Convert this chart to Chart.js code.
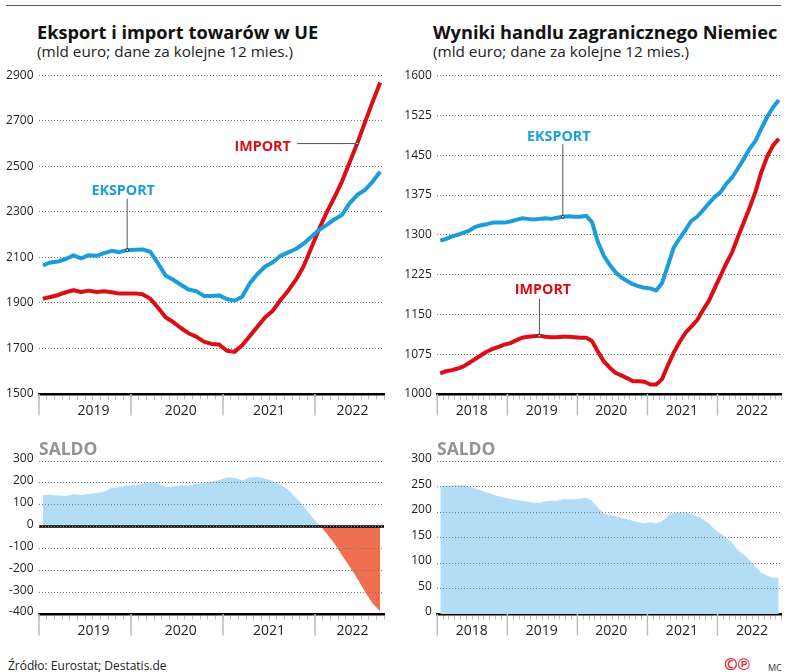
<!DOCTYPE html>
<html lang="pl">
<head>
<meta charset="utf-8">
<title>Eksport i import</title>
<script src="https://cdn.jsdelivr.net/npm/chart.js@4/dist/chart.umd.min.js"></script>
<style>
  html, body { margin: 0; padding: 0; background: #fff; }
  body { position: relative; width: 788px; height: 672px; overflow: hidden; font-family: "Open Sans", sans-serif; color: #1a1a1a; }
  canvas { position: absolute; }
  .t { position: absolute; white-space: nowrap; line-height: 1; }
  .title { font-weight: 700; font-size: 18.2px; color: #111; }
  .sub { font-size: 15.3px; color: #222; }
  .saldo { font-weight: 700; font-size: 17.5px; color: #939393; }
</style>
</head>
<body>
<div class="t" style="left:6px;top:5px;width:775px;border-top:1px solid #555"></div>
<div class="t title" style="left:37px;top:23px">Eksport i import towarów w UE</div>
<div class="t sub" style="left:37px;top:44px">(mld euro; dane za kolejne 12 mies.)</div>
<div class="t title" style="left:433px;top:23px">Wyniki handlu zagranicznego Niemiec</div>
<div class="t sub" style="left:433px;top:44px">(mld euro; dane za kolejne 12 mies.)</div>
<canvas id="ueTop" width="392" height="364" style="left:0;top:60px"></canvas>
<canvas id="deTop" width="394" height="364" style="left:394px;top:60px"></canvas>
<canvas id="ueSaldo" width="392" height="204" style="left:0;top:440px"></canvas>
<canvas id="deSaldo" width="394" height="204" style="left:394px;top:440px"></canvas>
<div class="t saldo" style="left:39px;top:440px">SALDO</div>
<div class="t saldo" style="left:437px;top:440px">SALDO</div>
<div class="t" style="left:8px;top:660px;font-size:12px;color:#222">Źródło: Eurostat; Destatis.de</div>
<div class="t" style="left:724px;top:656px;font-size:16.5px;font-weight:700;color:#d8262c">©℗</div>
<div class="t" style="left:768px;top:663px;font-size:9px;color:#333">MC</div>
<script>
// Lata na osi X
const yearsUE = [2019, 2020, 2021, 2022];
const yearsDE = [2018, 2019, 2020, 2021, 2022];

// Dane UE (styczeń 2019 - wrzesień 2022, mld euro)
const eksportUE = [2065, 2078, 2082, 2093, 2109, 2096, 2110, 2107, 2119, 2129, 2123, 2132,
  2134, 2135, 2125, 2075, 2021, 2002, 1980, 1959, 1952, 1931, 1930, 1933,
  1917, 1910, 1927, 1987, 2027, 2060, 2079, 2107, 2122, 2137, 2160, 2190,
  2220, 2242, 2267, 2286, 2337, 2374, 2396, 2432, 2476];
const importUE = [1919, 1926, 1935, 1947, 1956, 1948, 1954, 1948, 1951, 1947, 1941, 1942,
  1942, 1938, 1919, 1880, 1837, 1816, 1790, 1767, 1752, 1730, 1720, 1717,
  1690, 1685, 1714, 1755, 1796, 1837, 1866, 1913, 1954, 2001, 2060, 2140,
  2222, 2296, 2362, 2432, 2516, 2600, 2692, 2782, 2868];
const saldoUE = [145, 146, 142, 140, 148, 145, 149, 154, 160, 178, 180, 188,
  189, 195, 203, 198, 181, 183, 189, 188, 195, 200, 206, 213,
  224, 223, 212, 226, 227, 220, 209, 191, 168, 133, 95, 49,
  10, -30, -76, -130, -183, -236, -297, -351, -389];

// Dane Niemcy (styczeń 2018 - listopad 2022, mld euro)
const eksportDE = [1289, 1292, 1297, 1300, 1304, 1308, 1315, 1318, 1320, 1323, 1323, 1323,
  1325, 1328, 1331, 1330, 1329, 1330, 1331, 1330, 1332, 1334, 1335, 1334,
  1334, 1336, 1324, 1287, 1261, 1244, 1230, 1220, 1213, 1207, 1203, 1200,
  1199, 1195, 1209, 1242, 1276, 1293, 1309, 1326, 1334, 1346, 1359, 1371,
  1380, 1396, 1408, 1425, 1443, 1462, 1477, 1500, 1522, 1540, 1554];
const importDE = [1039, 1043, 1045, 1048, 1052, 1059, 1066, 1073, 1080, 1085, 1089, 1093,
  1096, 1101, 1106, 1108, 1109, 1110, 1108, 1107, 1107, 1108, 1108, 1107,
  1106, 1106, 1100, 1080, 1062, 1050, 1040, 1035, 1030, 1024, 1024, 1023,
  1018, 1018, 1028, 1054, 1078, 1098, 1115, 1127, 1139, 1158, 1175, 1199,
  1222, 1246, 1267, 1296, 1323, 1351, 1381, 1418, 1447, 1468, 1481];
const saldoDE = [250, 251, 252, 252, 253, 250, 246, 242, 238, 235, 231, 228,
  226, 224, 222, 220, 218, 218, 221, 222, 222, 225, 225, 225,
  226, 228, 222, 209, 197, 193, 192, 188, 186, 183, 180, 178,
  180, 178, 182, 192, 199, 199, 199, 196, 191, 186, 178, 166,
  158, 150, 139, 125, 116, 106, 93, 81, 75, 71, 71];

// Etykiety osi Y
const ticksUE = [1500, 1700, 1900, 2100, 2300, 2500, 2700, 2900];
const ticksDE = [1000, 1075, 1150, 1225, 1300, 1375, 1450, 1525, 1600];
const ticksSaldoUE = [-400, -300, -200, -100, 0, 100, 200, 300];
const ticksSaldoDE = [0, 50, 100, 150, 200, 250, 300];

const BLUE = "#1b9ddb";
const RED = "#db0d15";
const FONT = '"Open Sans", sans-serif';

// Miesiące jako kategorie, np. "2019-01"
const monthLabels = (years, count) =>
  years.flatMap((y) => Array.from({ length: 12 }, (_, m) => `${y}-${String(m + 1).padStart(2, "0")}`)).slice(0, count);

// Roczne kreski, podpisy lat, zerowa linia i odnośniki do serii
const panelMarks = {
  id: "panelMarks",
  afterDatasetsDraw(chart, args, opts) {
    const { ctx, chartArea } = chart;
    const x = chart.scales.x;
    const y = chart.scales.y;
    const labels = x.getLabels();
    ctx.save();

    ctx.strokeStyle = "#bdbdbd";
    ctx.lineWidth = 1.5;
    labels.forEach((label, i) => {
      if (!label.endsWith("-01")) return;
      const px = x.getPixelForValue(i - 0.5);
      ctx.beginPath();
      ctx.moveTo(px, chartArea.bottom);
      ctx.lineTo(px, chartArea.bottom + 21.5);
      ctx.stroke();
    });

    ctx.fillStyle = "#222";
    ctx.font = `14px ${FONT}`;
    ctx.textAlign = "center";
    ctx.textBaseline = "middle";
    opts.years.forEach((year, i) => {
      ctx.fillText(String(year), x.getPixelForValue(opts.yearAt[i]), chartArea.bottom + 17);
    });

    if (opts.zeroLine) {
      ctx.strokeStyle = "#000";
      ctx.lineWidth = 2.5;
      ctx.beginPath();
      ctx.moveTo(chartArea.left, y.getPixelForValue(0));
      ctx.lineTo(chartArea.right, y.getPixelForValue(0));
      ctx.stroke();
    }

    (opts.callouts || []).forEach((c) => {
      const pt = chart.getDatasetMeta(c.dataset).data[c.index];
      ctx.strokeStyle = "#555";
      ctx.lineWidth = 1;
      ctx.beginPath();
      ctx.moveTo(pt.x, pt.y);
      ctx.lineTo(pt.x + c.lineDx, pt.y + c.lineDy);
      ctx.stroke();
      ctx.fillStyle = "#fff";
      ctx.beginPath();
      ctx.arc(pt.x, pt.y, 1.4, 0, Math.PI * 2);
      ctx.fill();
      ctx.strokeStyle = "#222";
      ctx.stroke();
      ctx.fillStyle = c.color;
      ctx.font = `700 14.3px ${FONT}`;
      ctx.fillText(c.text, pt.x + c.textDx, pt.y + c.textDy);
    });
    ctx.restore();
  },
};

const createPanel = (id, cfg) =>
  new Chart(document.getElementById(id), {
    type: "line",
    data: { labels: cfg.labels, datasets: cfg.datasets },
    plugins: [panelMarks],
    options: {
      responsive: false,
      animation: false,
      events: [],
      layout: { padding: { top: cfg.top, right: cfg.right, left: 0, bottom: 0 } },
      elements: { point: { radius: 0 }, line: { tension: 0, borderJoinStyle: "round" } },
      plugins: {
        legend: { display: false },
        title: { display: false },
        tooltip: { enabled: false },
        panelMarks: { years: cfg.years, yearAt: cfg.yearAt, zeroLine: cfg.zeroLine, callouts: cfg.callouts },
      },
      scales: {
        x: {
          type: "category",
          offset: true,
          afterFit: (s) => { s.height = 30; },
          border: { display: true, color: "#000", width: 2.5 },
          grid: { offset: true, drawOnChartArea: false, drawTicks: true, tickLength: 5.5, tickColor: "#bdbdbd", tickWidth: 1 },
          ticks: { display: false, autoSkip: false },
        },
        y: {
          type: "linear",
          min: cfg.ticks[0],
          max: cfg.ticks[cfg.ticks.length - 1],
          afterFit: (s) => { s.width = cfg.axisWidth; },
          afterBuildTicks: (s) => { s.ticks = cfg.ticks.map((value) => ({ value })); },
          border: { display: false, dash: [1, 2] },
          grid: {
            // Na dole jest gruba linia osi, kropki nie są tam potrzebne
            color: (c) => (c.tick && c.tick.value === cfg.ticks[0] ? "transparent" : "#777"),
            lineWidth: 1,
            drawTicks: false,
            z: cfg.gridOnTop ? 1 : -1,
          },
          ticks: {
            color: "#222",
            font: { family: FONT, size: 12 },
            padding: cfg.labelPad,
            labelOffset: cfg.labelShift,
            autoSkip: false,
            callback: (value) => String(value),
          },
        },
      },
    },
  });

const line = (data, color) => ({ data, borderColor: color, borderWidth: 4, fill: false });
const area = (data) => ({
  data,
  borderWidth: 0,
  borderColor: "transparent",
  fill: { target: "origin", above: "#b3dcf7", below: "#ee7050" },
});

const labelsUE = monthLabels(yearsUE, eksportUE.length);
const labelsDE = monthLabels(yearsDE, eksportDE.length);
const yearAtUE = [6.6, 18, 29.5, 40.4];
const yearAtDE = [5.4, 17.4, 29.3, 41.4, 53.4];

createPanel("ueTop", {
  labels: labelsUE, years: yearsUE, yearAt: yearAtUE, ticks: ticksUE,
  top: 15.3, right: 8, axisWidth: 39, labelPad: 5.5, labelShift: 0,
  datasets: [line(eksportUE, BLUE), line(importUE, RED)],
  callouts: [
    { dataset: 0, index: 11, text: "EKSPORT", color: BLUE, lineDx: 0, lineDy: -51.5, textDx: -4, textDy: -59 },
    { dataset: 1, index: 41, text: "IMPORT", color: RED, lineDx: -60, lineDy: 0, textDx: -94.5, textDy: 3 },
  ],
});

createPanel("deTop", {
  labels: labelsDE, years: yearsDE, yearAt: yearAtDE, ticks: ticksDE,
  top: 15.6, right: 6.3, axisWidth: 43.3, labelPad: 5.5, labelShift: 0,
  datasets: [line(eksportDE, BLUE), line(importDE, RED)],
  callouts: [
    { dataset: 0, index: 21, text: "EKSPORT", color: BLUE, lineDx: 0, lineDy: -72.5, textDx: -4, textDy: -79.5 },
    { dataset: 1, index: 17, text: "IMPORT", color: RED, lineDx: 0, lineDy: -37, textDx: 3.5, textDy: -46 },
  ],
});

createPanel("ueSaldo", {
  labels: labelsUE, years: yearsUE, yearAt: yearAtUE, ticks: ticksSaldoUE,
  top: 21, right: 8, axisWidth: 39, labelPad: 5.5, labelShift: -2, zeroLine: true, gridOnTop: true,
  datasets: [area(saldoUE)],
});

createPanel("deSaldo", {
  labels: labelsDE, years: yearsDE, yearAt: yearAtDE, ticks: ticksSaldoDE,
  top: 21, right: 6.3, axisWidth: 43.3, labelPad: 5.5, labelShift: -2, gridOnTop: true,
  datasets: [area(saldoDE)],
});
</script>
</body>
</html>
